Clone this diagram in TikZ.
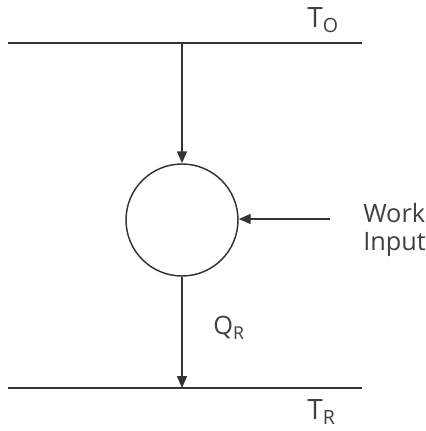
\documentclass[tikz,border=0pt]{standalone}
\usepackage{fontspec}
\setmainfont{Open Sans}
\usetikzlibrary{arrows.meta,positioning}

\definecolor{inkgray}{HTML}{333333}
\definecolor{txtgray}{HTML}{404040}

\begin{document}
\begin{tikzpicture}[
  x=0.75pt, y=-0.75pt,
  font=\fontsize{19}{21}\selectfont,
  >={Triangle[length=9pt,width=7.5pt]},
  wire/.style ={draw=inkgray, line width=1.1pt},
  flow/.style ={->, draw=inkgray, fill=inkgray, line width=1.1pt},
  cyc/.style  ={draw=inkgray, circle, line width=1.1pt, minimum size=84pt, inner sep=0pt},
  lbl/.style  ={text=txtgray, inner sep=0pt, align=left},
]
\useasboundingbox (0,0) rectangle (425,431);

% ======================= reservoirs =======================
\coordinate (hotL) at (8, 43);
\coordinate (hotR) at (362, 43);
\coordinate (coldL) at (8, 388);
\coordinate (coldR) at (362, 388);
\draw[wire] (hotL) -- (hotR);
\draw[wire] (coldL) -- (coldR);

\node[lbl, anchor=west, font=\fontsize{21}{21}\selectfont] (Thot)  at (307, 20)  {T\textsubscript{O}};
\node[lbl, anchor=west, font=\fontsize{21}{21}\selectfont] (Tcold) at (307, 412) {T\textsubscript{R}};

% ======================= heat pump =======================
\node[cyc] (pump) at (182, 220) {};

\coordinate (inTop) at (182, 43);
\coordinate (outBot) at (182, 388);
\coordinate (workEnd) at (330, 219);

\draw[flow] (inTop) -- (pump.north);
\draw[flow] (pump.south) -- (outBot);
\draw[flow] (workEnd) -- (pump.east |- workEnd);

\node[lbl, anchor=west] (work) at (363, 230) {Work\\Input};
\node[lbl, anchor=west] (QR) at (213, 328) {Q\textsubscript{R}};
\end{tikzpicture}
\end{document}
